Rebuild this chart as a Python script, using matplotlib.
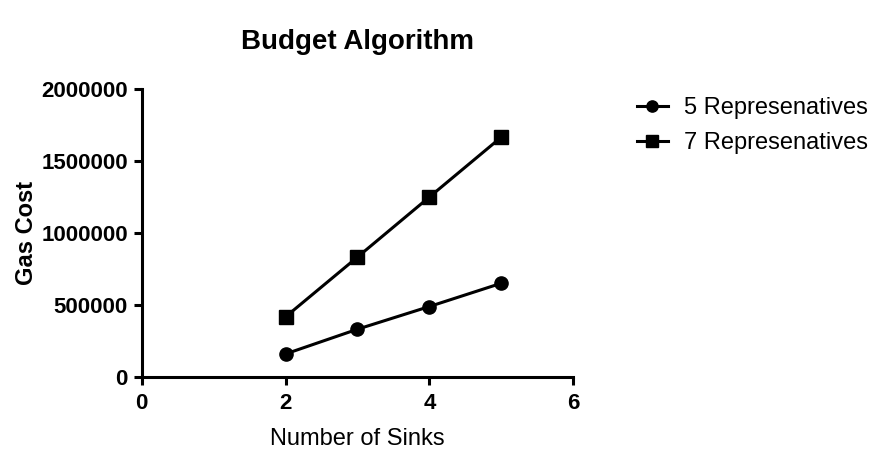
import matplotlib
matplotlib.use("Agg")
import matplotlib.pyplot as plt

plt.rcParams["font.family"] = ["Liberation Sans", "DejaVu Sans"]

# data
sinks = [2, 3, 4, 5]
reps5 = [158000, 330000, 488000, 650000]
reps7 = [416000, 832000, 1250000, 1667000]
x_ticks = [0, 2, 4, 6]
y_ticks = [0, 500000, 1000000, 1500000, 2000000]

fig = plt.figure(figsize=(8.91, 4.61), dpi=100)
ax = fig.add_axes([0.159, 0.183, 0.4844, 0.6234])

ax.plot(sinks, reps5, color="black", lw=2.2, marker="o", ms=9.5,
        label="5 Represenatives", clip_on=False)
ax.plot(sinks, reps7, color="black", lw=2.2, marker="s", ms=9.5,
        label="7 Represenatives", clip_on=False)

ax.set_xlim(0, 6)
ax.set_ylim(0, 2000000)
ax.set_xticks(x_ticks)
ax.set_yticks(y_ticks)
ax.set_xticklabels([str(t) for t in x_ticks], fontsize=16, fontweight="bold")
ax.set_yticklabels([str(t) for t in y_ticks], fontsize=16, fontweight="bold")
ax.tick_params(direction="out", length=6, width=2.2, pad=4)
ax.tick_params(axis="x", pad=6)

for side in ["top", "right"]:
    ax.spines[side].set_visible(False)
for side in ["left", "bottom"]:
    ax.spines[side].set_linewidth(2.2)

ax.set_xlabel("Number of Sinks", fontsize=17)
ax.set_ylabel("Gas Cost", fontsize=17, fontweight="bold")
ax.xaxis.set_label_coords(0.5, -0.18)
ax.yaxis.set_label_coords(-0.24, 0.5)
ax.set_title("Budget Algorithm", fontsize=20, fontweight="bold", y=1.135, va="center")

fig.legend(loc="upper left", bbox_to_anchor=(0.715, 0.789), frameon=False,
           fontsize=17, handlelength=1.3, handletextpad=0.7,
           borderpad=0, borderaxespad=0, labelspacing=0.55, markerscale=0.85)

fig.savefig("out.png", dpi=100)
